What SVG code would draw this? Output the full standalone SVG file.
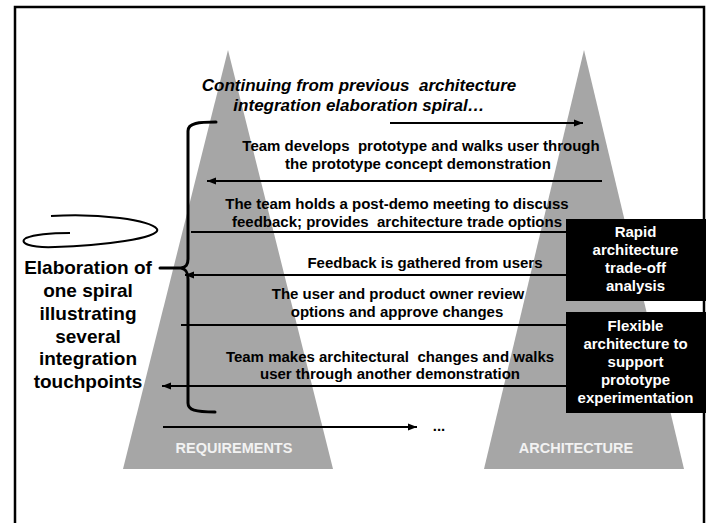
<svg xmlns="http://www.w3.org/2000/svg" width="710" height="523" viewBox="0 0 710 523">
<style>
text{font-family:"Liberation Sans",Arial,sans-serif;font-weight:bold;fill:#000}
.t{font-size:15px;text-anchor:middle}
.ti{font-size:17px;font-style:italic;text-anchor:middle}
.big{font-size:19px;text-anchor:middle}
.box{fill:#000}
.bt{font-size:15px;text-anchor:middle;fill:#fff}
.lab{font-size:14.5px;text-anchor:middle;fill:#f2f2f2}
.tri{fill:#a6a6a6}
.ln{stroke:#000;stroke-width:2;fill:none}
.br{stroke:#000;stroke-width:3;fill:none;stroke-linecap:round}
</style>
<defs>
<marker id="ah" markerUnits="userSpaceOnUse" markerWidth="10" markerHeight="8" refX="9" refY="4" orient="auto">
<path d="M0,0.5 L9,4 L0,7.5 z" fill="#000"/>
</marker>
</defs>
<rect x="0" y="0" width="710" height="523" fill="#fff"/>
<rect x="15" y="7" width="689" height="530" fill="none" stroke="#000" stroke-width="2.5"/>

<g id="requirements">
<polygon class="tri" points="228,50 123,469 333,469"/>
<text class="lab" x="234" y="453">REQUIREMENTS</text>
</g>
<g id="architecture">
<polygon class="tri" points="584,50 484,469 684,469"/>
<text class="lab" x="576" y="453">ARCHITECTURE</text>
</g>

<g id="title">
<text class="ti" x="359" y="91" xml:space="preserve">Continuing from previous  architecture</text>
<text class="ti" x="359" y="111">integration elaboration spiral…</text>
</g>

<g id="connectors">
<line class="ln" x1="390" y1="123" x2="583" y2="123" marker-end="url(#ah)"/>
<line class="ln" x1="602" y1="181" x2="207" y2="181" marker-end="url(#ah)"/>
<line class="ln" x1="567" y1="232" x2="191" y2="232"/>
<line class="ln" x1="567" y1="275" x2="185" y2="275" marker-end="url(#ah)"/>
<line class="ln" x1="567" y1="325" x2="181" y2="325"/>
<line class="ln" x1="567" y1="386" x2="162" y2="386" marker-end="url(#ah)"/>
<line class="ln" x1="163" y1="427" x2="417" y2="427" marker-end="url(#ah)"/>
</g>

<g id="step-labels">
<text class="t" x="421" y="151" xml:space="preserve">Team develops  prototype and walks user through</text>
<text class="t" x="418" y="169">the prototype concept demonstration</text>
<text class="t" x="397" y="209">The team holds a post-demo meeting to discuss</text>
<text class="t" x="397" y="227" xml:space="preserve">feedback; provides  architecture trade options</text>
<text class="t" x="425" y="268">Feedback is gathered from users</text>
<text class="t" x="398" y="299">The user and product owner review</text>
<text class="t" x="397" y="317">options and approve changes</text>
<text class="t" x="390" y="362" xml:space="preserve">Team makes architectural  changes and walks</text>
<text class="t" x="390" y="379">user through another demonstration</text>
<text class="t" x="439" y="431">...</text>
</g>

<g id="brace">
<path class="br" d="M216,122 C199,122 188,123 188,131 L188,259 C188,265 186,267 181,268 L160,268 M181,268 C186,269 188,272 188,279 L188,403 C188,410 195,412 215,412"/>
</g>

<g id="doodle">
<path d="M51,216 C100,213 150,220 157,229 C162,238 100,246 55,247 C30,248 18,243 26,238 C36,234 55,233 70,233" fill="none" stroke="#000" stroke-width="2"/>
</g>

<g id="elaboration-label">
<text class="big" x="88" y="274">Elaboration of</text>
<text class="big" x="88" y="297">one spiral</text>
<text class="big" x="88" y="320">illustrating</text>
<text class="big" x="88" y="342.5">several</text>
<text class="big" x="88" y="365">integration</text>
<text class="big" x="88" y="388">touchpoints</text>
</g>

<g id="rapid-box">
<rect class="box" x="566" y="219" width="140" height="82"/>
<text class="bt" x="635.5" y="237">Rapid</text>
<text class="bt" x="635.5" y="255">architecture</text>
<text class="bt" x="635.5" y="273">trade-off</text>
<text class="bt" x="635.5" y="291">analysis</text>
</g>

<g id="flexible-box">
<rect class="box" x="566" y="312" width="140" height="101"/>
<text class="bt" x="635.5" y="331">Flexible</text>
<text class="bt" x="635.5" y="349">architecture to</text>
<text class="bt" x="635.5" y="367">support</text>
<text class="bt" x="635.5" y="385">prototype</text>
<text class="bt" x="635.5" y="403">experimentation</text>
</g>
</svg>
